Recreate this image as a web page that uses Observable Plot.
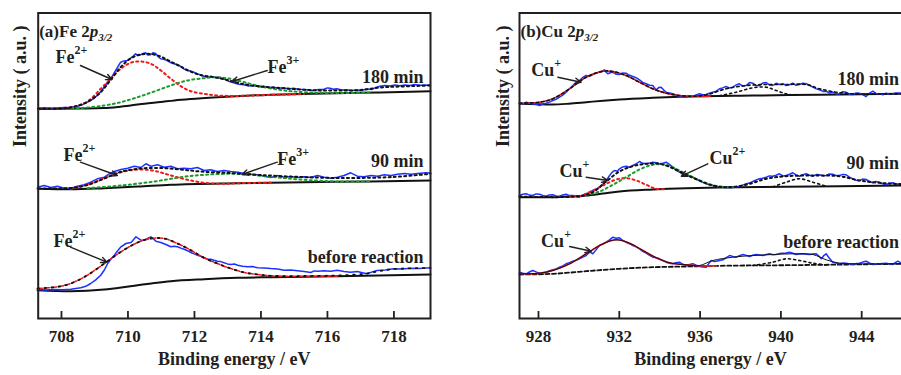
<!DOCTYPE html>
<html><head><meta charset="utf-8">
<script src="https://cdn.jsdelivr.net/npm/d3@7"></script>
<script src="https://cdn.jsdelivr.net/npm/@observablehq/plot@0.6"></script>
<style>
html,body{margin:0;padding:0;overflow:hidden;background:#fff;width:901px;height:375px}
#a{position:absolute;left:0;top:0;width:450px;height:375px}
#b{position:absolute;left:450px;top:0;width:480px;height:375px}
svg, svg text, svg tspan{font-family:"Liberation Serif","Times New Roman",serif !important;font-weight:bold !important}
</style></head>
<body><div id="a"></div><div id="b"></div>
<script>
// ---------- DATA: Fe 2p3/2 (binding energy eV, intensity a.u.) ----------
const feTicks = [708,710,712,714,716,718];
const feExp180 = [[707.28,210.3],[707.48,210.8],[707.68,210.2],[707.88,210.6],[708.08,211.0],[708.28,211.3],[708.48,212.2],[708.63,213.8],[708.78,216.3],[708.93,219.2],[709.08,223.0],[709.18,226.8],[709.28,231.3],[709.38,235.8],[709.48,239.7],[709.63,248.0],[709.78,256.3],[709.88,257.6],[709.98,258.0],[710.08,260.3],[710.16,262.4],[710.23,264.7],[710.30,263.1],[710.38,263.7],[710.45,265.0],[710.53,265.7],[710.60,263.4],[710.68,263.7],[710.75,265.8],[710.83,265.0],[710.90,262.1],[710.98,259.7],[711.08,259.2],[711.18,258.0],[711.28,256.0],[711.38,254.7],[711.48,253.9],[711.58,252.3],[711.68,249.6],[711.78,248.0],[711.88,247.5],[711.98,246.3],[712.08,244.6],[712.18,243.7],[712.28,242.2],[712.38,241.3],[712.48,241.8],[712.58,241.3],[712.73,240.6],[712.88,239.7],[713.03,237.2],[713.18,235.7],[713.33,234.3],[713.48,233.7],[713.63,232.6],[713.78,233.0],[713.93,231.8],[714.08,232.3],[714.23,231.0],[714.38,231.3],[714.53,230.2],[714.68,230.7],[714.83,229.6],[714.98,230.3],[715.13,229.2],[715.28,229.0],[715.43,228.4],[715.58,228.0],[715.73,229.1],[715.88,229.0],[716.0,230.6],[716.08,230.3],[716.18,229.2],[716.28,229.7],[716.43,228.4],[716.58,228.8],[716.73,227.9],[716.88,228.6],[717.03,228.0],[717.18,229.6],[717.33,229.0],[717.43,230.7],[717.58,232.2],[717.73,233.0],[717.88,232.4],[718.03,233.4],[718.18,232.8],[718.33,233.6],[718.48,233.1],[718.63,233.9],[718.78,233.2],[718.93,233.6],[719.1,233.2]];
const feBg180 = [[707.30,209.5],[708.57,210],[709.26,210.5],[709.7,211.6],[710.08,213],[710.5,214.8],[710.98,216.5],[711.4,218.1],[711.88,219.5],[712.69,221.3],[713.68,223],[715.19,224.5],[716.30,225.3],[717.59,226],[719.10,227.3]];
const feFe2p180 = [[707.30,209.7],[708.28,211.3],[708.78,217],[709.18,229.7],[709.48,239.7],[709.78,249.7],[710.08,255.7],[710.38,257],[710.69,254.7],[710.99,248],[711.29,239.7],[711.59,232.3],[711.89,227.3],[712.29,224.7],[712.69,223],[713.29,222.6],[714.29,223.6],[715.3,224.5]];
const feFe3p180 = [[708.3,210.1],[708.58,210.4],[709.28,213],[709.78,216.3],[710.29,221.3],[710.79,227],[711.29,233],[711.79,238],[712.29,240.3],[712.69,241.3],[713.09,239.7],[713.49,236.3],[714.10,231.3],[714.70,228],[715.30,226.3],[716.30,225.5],[717.3,225.9]];
const feFit180 = [[707.30,209.7],[708.27,211],[708.78,216.5],[709.17,226],[709.47,238],[709.77,251],[710.08,260],[710.38,264],[710.68,264.5],[710.98,262],[711.28,257],[711.58,252],[711.88,247],[712.18,243.5],[712.57,241.5],[712.93,239],[713.38,235],[713.98,232],[714.59,230.5],[715.19,229],[715.79,228],[716.39,228],[716.99,228.5],[717.59,231],[718.20,232],[719.10,233]];

const feExp90 = [[707.28,131.3],[707.48,133],[707.68,131],[707.88,132.3],[708.08,130.3],[708.28,130.3],[708.48,132.3],[708.68,133.7],[708.88,136.3],[709.08,139.7],[709.29,141.3],[709.44,144.7],[709.59,147],[709.79,149],[709.99,150.3],[710.19,152.3],[710.39,151],[710.54,154.7],[710.69,152.3],[710.89,153.7],[711.09,151.3],[711.29,152.3],[711.49,149.7],[711.69,150.3],[711.89,149.7],[712.09,151],[712.29,148],[712.49,148.7],[712.69,147],[712.89,148],[713.09,147],[713.30,146.3],[713.50,145],[713.70,144.3],[713.90,143.7],[714.10,142.3],[714.30,141],[714.50,143],[714.70,141.3],[714.90,142],[715.10,141],[715.30,141.7],[715.50,141],[715.70,143],[715.90,141.3],[716.10,140.3],[716.30,141.3],[716.50,143],[716.70,145.7],[716.90,142.3],[717.10,141.7],[717.31,143],[717.51,142.3],[717.71,143.7],[717.91,143],[718.11,144.3],[718.31,145],[718.51,144.3],[718.71,145],[718.96,145.7],[719.1,145.4]];
const feBg90 = [[707.28,129.7],[708.28,129.2],[709.29,130.3],[710.3,131.9],[711.29,133.7],[713.3,135.3],[715.3,136.3],[717.31,137],[719.1,138]];
const feFe2p90 = [[708.28,129.7],[708.78,133.7],[709.29,140.3],[709.79,146.3],[710.29,149],[710.79,147.7],[711.29,143],[711.79,138.7],[712.29,135.7],[712.79,134.7],[713.3,135.3],[714.3,135.8]];
const feFe3p90 = [[708.78,130.3],[709.79,133],[710.79,137],[711.59,141.3],[712.29,143.7],[713.09,144.7],[713.70,143.7],[714.50,141],[715.30,138.7],[716.30,137],[717.3,137.1]];
const feFit90 = [[707.31,130],[708.28,130.5],[708.78,133.5],[709.29,140],[709.77,146.5],[710.38,150],[710.98,150.5],[711.58,149],[712.18,147],[713.08,145.5],[713.98,143.5],[715.19,141.5],[716.39,140.5],[717.59,141],[718.20,142],[719.1,144.7]];

const feExp0 = [[707.28,29],[707.53,28.6],[707.78,29],[708.03,28.7],[708.28,29.3],[708.58,30.7],[708.73,32.2],[708.88,35],[709.03,38.6],[709.18,43.3],[709.29,48.5],[709.39,55],[709.49,59.5],[709.59,63.3],[709.69,67.8],[709.79,71.7],[709.94,75],[710.09,76],[710.16,78.6],[710.24,81.7],[710.31,80.2],[710.39,78.3],[710.47,78.4],[710.54,79],[710.62,80.5],[710.69,81.7],[710.77,79.6],[710.84,77.3],[710.99,76],[711.14,74],[711.29,71.7],[711.39,72.3],[711.49,71.7],[711.59,70.4],[711.69,69.3],[711.79,67.8],[711.89,66],[711.99,64.6],[712.09,63.3],[712.19,62.2],[712.29,60.7],[712.39,59.6],[712.49,59.3],[712.59,58.2],[712.69,57.3],[712.79,56.9],[712.89,55.7],[712.99,54.6],[713.09,54],[713.20,54.5],[713.30,53.3],[713.45,52.2],[713.60,51.7],[713.75,51.9],[713.90,50.7],[714.10,50.6],[714.30,50],[714.50,49.6],[714.70,48.3],[714.90,48.4],[715.10,47.7],[715.30,46.9],[715.50,46],[715.60,47.6],[715.70,47.3],[715.90,47.8],[716.10,47.3],[716.30,48.3],[716.50,46.9],[716.69,46.3],[716.90,46.9],[717.05,45.8],[717.19,44.7],[717.35,46.6],[717.49,48],[717.74,48.6],[717.99,49.7],[718.25,49.4],[718.5,50.3],[718.75,50.1],[719.1,50.7]];
const feBg0 = [[707.28,28.3],[708.28,27.3],[709.29,29],[709.8,31],[710.29,33.3],[710.8,35.5],[711.29,37.3],[712.29,39.3],[713.30,40.7],[714.30,41.3],[716.30,42.3],[719.1,44]];
const feFe2p0 = [[707.28,30],[707.88,31.7],[708.28,35],[708.78,43.3],[709.29,55],[709.79,66.7],[710.29,76],[710.69,80],[711.09,80],[711.49,75],[711.89,68.3],[712.29,60.7],[712.69,55],[713.09,50],[713.50,46],[713.90,44],[714.30,42.7],[715.3,42.2],[716.3,42.4]];
const feFit0 = [[707.28,30],[707.88,31.7],[708.28,35],[708.78,43.3],[709.29,55],[709.79,66.7],[710.29,76],[710.69,80],[711.09,80],[711.49,75],[711.89,68.3],[712.29,60.7],[712.69,55],[713.09,50],[713.50,46],[713.90,44],[714.30,42.7],[715.3,42.5],[716.3,43],[716.8,43.8],[717.19,45],[717.5,47],[718,49.5],[719.1,50.5]];

// ---------- DATA: Cu 2p3/2 ----------
const cuTicks = [928,932,936,940,944];
const cuExp180 = [[927.06,215.3],[927.22,214.4],[927.39,216.3],[927.55,215.6],[927.72,214.7],[927.88,214.1],[928.05,213],[928.21,214.4],[928.38,215.3],[928.54,216.4],[928.71,218],[928.87,219.1],[929.04,221.3],[929.2,223.4],[929.37,226.3],[929.53,229.8],[929.70,233],[929.86,236.2],[930.03,238],[930.2,241.2],[930.36,243],[930.53,242.2],[930.69,244],[930.86,245.4],[931.02,246.3],[931.15,247.1],[931.27,248.7],[931.35,246.2],[931.43,244.7],[931.55,245.8],[931.68,246.3],[931.85,244.2],[932.01,244],[932.17,245.6],[932.34,245.3],[932.5,243.2],[932.67,242],[932.83,240.8],[933.00,238.7],[933.16,236.1],[933.33,234.7],[933.5,233.3],[933.66,233],[933.75,230.4],[933.83,228.7],[933.95,230.9],[934.07,231.3],[934.2,228.4],[934.32,226.3],[934.48,225.5],[934.65,224.7],[934.8,223.6],[934.98,222],[935.15,221.6],[935.31,221.3],[935.48,222.3],[935.64,222],[935.8,223.6],[935.97,224.7],[936.13,223.8],[936.30,224],[936.46,225.2],[936.63,226.3],[936.8,227.4],[936.96,229.7],[937.12,230.6],[937.29,232],[937.45,230.6],[937.62,231.3],[937.78,233.5],[937.95,234.7],[938.11,232.4],[938.28,233],[938.45,235.9],[938.61,235.3],[938.78,232.7],[938.94,233],[939.1,235.4],[939.27,236],[939.43,233.6],[939.60,233],[939.76,235.2],[939.93,234],[940.1,234.8],[940.26,233],[940.43,233.8],[940.59,235.3],[940.75,233.2],[940.92,234],[941.09,235.2],[941.25,234.7],[941.42,233.2],[941.58,231.3],[941.75,229.6],[941.91,228.7],[942.08,227.1],[942.24,227.3],[942.4,225.4],[942.57,226.3],[942.73,224.6],[942.90,224.7],[943.06,226.8],[943.23,226.3],[943.4,224.2],[943.56,224],[943.72,225.6],[943.89,225.3],[944.05,223.9],[944.22,222],[944.38,225.2],[944.55,227.3],[944.71,225.1],[944.88,224.7],[945.05,223.8],[945.21,225.3],[945.37,224.3],[945.54,224.7],[945.7,225.6],[945.97,225.3],[946.3,224.8],[946.8,225.2]];
const cuBg180 = [[927.06,214.7],[928.71,214],[929.5,214.8],[930.36,216.3],[931.2,217.8],[932.01,219],[933.66,220.7],[935.31,222],[938.61,223],[941.91,223.7],[945.97,224.7],[947,225]];
const cuCu1p180 = [[927.06,215.3],[928.05,216.3],[928.71,219.7],[929.54,229.7],[930.36,241.3],[931.19,247.3],[931.68,247],[932.34,243],[933.00,236.3],[933.66,229.7],[934.32,225.3],[934.98,223],[935.64,222.2],[936.5,222.4]];
const cuFit180 = [[927.06,215.3],[928.05,216.3],[928.71,219.7],[929.54,229.7],[930.36,241.3],[931.19,247.3],[931.68,247],[932.34,243],[933.00,236.3],[933.66,229.7],[934.32,225.3],[934.98,223],[935.64,222.2],[936.30,223.7],[937.29,229.7],[938.28,233],[939.27,234],[940.26,234],[941.25,234],[941.91,229.7],[942.74,226.3],[943.56,224.7],[945.97,224.7],[947,225]];
const cuSat180 = [[936.96,222.8],[937.79,226.3],[938.61,230.7],[939.27,231.3],[939.77,228],[940.26,224.7],[940.76,223.4]];

const cuExp90 = [[927.06,123],[927.22,124.2],[927.39,124.7],[927.55,123.4],[927.72,123],[927.88,124.6],[928.05,124.3],[928.21,123.1],[928.38,122.3],[928.54,123.6],[928.71,123.7],[928.87,122.6],[929.04,122.3],[929.2,123.5],[929.37,124.3],[929.53,122.9],[929.70,123],[929.86,122.2],[930.03,121.3],[930.2,123.4],[930.36,124.7],[930.53,126.1],[930.69,128],[930.86,129.2],[931.02,131.3],[931.15,133.6],[931.27,136.3],[931.4,139.4],[931.52,143],[931.64,146.1],[931.76,148],[931.9,147.2],[932.01,149.7],[932.17,151.6],[932.34,152.3],[932.5,151.2],[932.67,153],[932.83,154.6],[933.00,157],[933.16,155.2],[933.33,154.7],[933.5,155.4],[933.66,156.3],[933.83,155.8],[933.99,154.7],[934.15,155.2],[934.32,156.3],[934.48,154.1],[934.65,151.3],[934.8,148.4],[934.98,146.3],[935.15,144.1],[935.31,143],[935.48,142.5],[935.64,141.3],[935.8,139.3],[935.97,138],[936.13,136.1],[936.30,134.7],[936.46,133.6],[936.63,133],[936.8,132.4],[936.96,131.3],[937.12,131.7],[937.29,131.3],[937.45,130.8],[937.62,131],[937.78,131.6],[937.95,132.3],[938.11,133.4],[938.28,134.7],[938.45,135.4],[938.61,137],[938.78,138.6],[938.94,139.7],[939.1,140.2],[939.27,141.3],[939.43,142.6],[939.60,142.3],[939.76,143.2],[939.93,144.7],[940.1,142.6],[940.26,143],[940.43,144.2],[940.59,145.7],[940.75,143.6],[940.92,142.3],[941.09,143.8],[941.25,144.7],[941.42,143.2],[941.58,142.3],[941.75,143.9],[941.91,143.7],[942.08,142.6],[942.24,143],[942.4,144.5],[942.57,144.3],[942.73,142.9],[942.90,143],[943.06,144.1],[943.23,143.7],[943.4,141.4],[943.56,139.7],[943.72,138.2],[943.89,138],[944.05,139.4],[944.22,139],[944.38,137.2],[944.55,135.7],[944.71,137.1],[944.88,136.3],[945.05,134.8],[945.21,133.7],[945.37,135.2],[945.54,135.7],[945.7,134.2],[945.97,134.7],[946.3,135.1],[946.8,134.6]];
const cuBg90 = [[927.06,121.3],[928.71,121.3],[929.5,122],[930.36,123],[931.2,125],[932.01,127],[933.66,129],[935.31,130.3],[936.96,131],[940.26,131.7],[945.97,133],[947,133.2]];
const cuCu1p90 = [[929.5,122.1],[930.03,122.4],[930.69,128],[931.35,134.7],[931.85,139],[932.34,140.3],[932.84,138],[933.33,133.7],[933.83,129.7],[934.32,129.4]];
const cuCu2p90 = [[930.36,123.2],[931.02,127],[931.68,133.7],[932.34,141.3],[933.00,149],[933.66,153.7],[934.32,153.7],[934.98,148],[935.64,141.3],[936.30,135.3],[936.96,132],[937.62,131.2]];
const cuFit90 = [[927.06,122],[930.03,122.3],[930.69,126.3],[931.35,137],[932.01,147],[932.67,152.3],[933.33,154.7],[933.99,154.7],[934.65,150.3],[935.31,143.7],[935.97,138],[936.63,133],[937.29,131.3],[938.28,133.7],[939.27,139.7],[940.26,142.3],[941.58,143],[942.90,142.3],[943.89,138],[944.88,135.7],[945.97,134.3],[947,134]];
const cuSat90 = [[939.60,131.6],[940.26,136.3],[940.92,139.7],[941.58,136.3],[942.24,132.3]];

const cuExp0 = [[927.06,46.3],[927.22,45.2],[927.39,44.7],[927.55,46.5],[927.72,48],[927.88,46.6],[928.05,45.3],[928.21,45.8],[928.38,46.3],[928.54,47.8],[928.71,48.7],[928.87,49.6],[929.04,51.3],[929.2,52.6],[929.37,54.7],[929.53,55.8],[929.70,57.3],[929.86,58.2],[930.03,59.7],[930.2,61.5],[930.36,63],[930.45,64.8],[930.53,66.3],[930.61,65.9],[930.69,64.7],[930.86,68.9],[931.02,73],[931.19,74.4],[931.35,76.3],[931.52,78.6],[931.68,81.3],[931.85,80.2],[932.01,80.7],[932.17,78.1],[932.34,76.3],[932.5,74.8],[932.67,73],[932.83,71.6],[933.00,69.7],[933.16,67.2],[933.33,65.3],[933.5,63.2],[933.66,61.3],[933.83,60.8],[933.99,59.7],[934.15,58.1],[934.32,56.3],[934.48,55.2],[934.65,54.7],[934.8,55.8],[934.98,56.3],[935.15,54.2],[935.31,53],[935.48,54.1],[935.64,54.7],[935.8,53.2],[935.97,52],[936.13,51.6],[936.30,51.3],[936.42,54.6],[936.55,58],[936.68,57.1],[936.80,57.3],[936.96,58.1],[937.13,58.7],[937.3,60.8],[937.46,63],[937.62,62.1],[937.79,61.3],[937.95,62.9],[938.12,64],[938.28,63.1],[938.45,62],[938.61,63.2],[938.78,64],[938.94,63.6],[939.11,63],[939.27,64.1],[939.44,64.7],[939.6,63.8],[939.77,64],[939.93,64.9],[940.10,65.3],[940.26,65.6],[940.43,66.3],[940.59,65.2],[940.76,64],[940.92,64.4],[941.09,64.7],[941.25,64.2],[941.42,64],[941.58,64.6],[941.75,64.7],[941.88,62.4],[942.00,59.7],[942.12,62.8],[942.24,64.7],[942.4,60.3],[942.57,56.3],[942.73,55.4],[942.90,54.7],[943.06,55.6],[943.23,55.3],[943.4,54.6],[943.56,54],[943.72,54.9],[943.89,55.3],[944.05,56.4],[944.22,57.3],[944.38,55.5],[944.55,54],[944.71,54.2],[944.88,54.7],[945.05,55.1],[945.21,55.3],[945.37,54.5],[945.54,54],[945.66,55.8],[945.79,57.3],[945.9,56.1],[945.97,55.3],[946.3,55.1],[946.8,55.4]];
const cuBg0 = [[927.06,44],[928.71,44.7],[929.5,45.8],[930.36,47.3],[932.01,49.7],[933.66,51.3],[935.31,52],[936.96,52.7],[940.26,53.3],[945.97,54.7],[947,55]];
const cuCu1p0 = [[927.06,44.7],[928.05,45.3],[928.71,48],[929.54,54.7],[930.36,64.7],[931.19,74.7],[931.85,78.7],[932.51,75.3],[933.17,68],[933.83,60.7],[934.49,55.7],[935.31,53.7],[935.97,52.7],[936.8,52.8]];
const cuFit0 = [[927.06,44.7],[928.05,45.3],[928.71,48],[929.54,54.7],[930.36,64.7],[931.19,74.7],[931.85,78.7],[932.51,75.3],[933.17,68],[933.83,60.7],[934.49,55.7],[935.31,53.7],[935.97,53],[936.63,58],[937.62,61.3],[938.61,63],[939.60,64],[940.59,64.7],[941.58,64],[942.24,58.7],[942.90,55.3],[943.56,54.7],[945.97,54.7],[947,55]];
const cuSat0 = [[938.61,53],[939.60,56.3],[940.26,59.7],[940.92,58],[941.58,55.3],[942.24,53.5]];

// ---------- annotations ----------
const feIons = [{t:"Fe^2+",x:707.82,y:261},{t:"Fe^3+",x:714.2,y:251.3},{t:"Fe^2+",x:708.06,y:163.5},{t:"Fe^3+",x:714.49,y:159},{t:"Fe^2+",x:707.76,y:77.5}];
const feTimes = [{t:"180 min",x:718.89,y:241},{t:"90 min",x:718.89,y:157},{t:"before reaction",x:718.89,y:61}];
const feArrows = [{x1:708.57,y1:253,x2:709.52,y2:239},{x1:714.19,y1:248,x2:713.13,y2:237},{x1:708.57,y1:156.3,x2:709.68,y2:143},{x1:714.49,y1:156.3,x2:713.43,y2:144},{x1:708.27,y1:71.3,x2:709.37,y2:56.3}];
const cuIons = [{t:"Cu^+",x:927.64,y:248},{t:"Cu^+",x:929.04,y:147.5},{t:"Cu^2+",x:936.47,y:160},{t:"Cu^+",x:928.13,y:77.5}];
const cuTimes = [{t:"180 min",x:945.85,y:239},{t:"90 min",x:945.85,y:155},{t:"before reaction",x:945.85,y:76}];
const cuArrows = [{x1:928.96,y1:241.3,x2:930.11,y2:236.3},{x1:930.36,y1:141.3,x2:931.43,y2:138},{x1:936.38,y1:154.7,x2:935.07,y2:142.3},{x1:929.54,y1:72,x2:930.61,y2:67.3}];

// ---------- styles ----------
const INK = "#231f20";
const FONT = "'Liberation Serif','Times New Roman',serif";
const L = (data, o) => Plot.line(data, {x: d => d[0], y: d => d[1], ...o});
const BLUE = {stroke:"#1e32ff", strokeWidth:1.5};
const BG = {stroke:"#111", strokeWidth:2, curve:"monotone-x"};
const DOT = c => ({stroke:c, strokeWidth:2, strokeDasharray:"2,3.2", curve:"catmull-rom"});
const RED = "#f01818", GREEN = "#1a9a2a";

function panel(cfg) {
  const T = {fontFamily: FONT, fontWeight: "bold", fill: INK};
  const marks = [
    ...cfg.curves,
    Plot.frame({stroke: INK, strokeWidth: 2}),
    Plot.tickX(cfg.ticks, {x: d => d, insetTop: 305.5 - 7, stroke: INK, strokeWidth: 1.8}),
    Plot.axisX({ticks: cfg.ticks, tickSize: 0, tickPadding: 11, tickFormat: d => String(d), fontSize: 17, label: null, ...T}),
    Plot.text(["Binding energy / eV"], {text: d => d, frameAnchor: "bottom", dy: 46, dx: cfg.labelDx, fontSize: 18, ...T}),
    Plot.text(["Intensity ( a.u. )"], {text: d => d, frameAnchor: "left", rotate: -90, dx: cfg.yDx, dy: -18.75, fontSize: 18, ...T}),
    Plot.text([cfg.title], {text: d => d, frameAnchor: "top-left", textAnchor: "start", dx: 1, dy: 12, fontSize: 17, ...T}),
    Plot.arrow(cfg.arrows, {x1: "x1", y1: "y1", x2: "x2", y2: "y2", stroke: INK, strokeWidth: 1.4, headLength: 7, headAngle: 50}),
    Plot.text(cfg.ions, {x: "x", y: "y", text: "t", textAnchor: "start", fontSize: 18, ...T}),
    Plot.text(cfg.times, {x: "x", y: "y", text: "t", textAnchor: "end", fontSize: 18, ...T})
  ];
  const svg = Plot.plot({
    width: cfg.width, height: 375,
    marginLeft: cfg.ml, marginRight: cfg.mr, marginTop: 12.5, marginBottom: 57,
    x: {domain: cfg.domain, label: null},
    y: {domain: [0, 305.5], axis: null},
    style: {fontFamily: FONT, fontWeight: "bold", fontSize: "17px", color: INK, background: "transparent", overflow: "visible", maxWidth: "none"},
    marks
  });
  d3.select(svg).selectAll("text").each(function () {
    const s = this.textContent;
    const sel = d3.select(this);
    if (s.includes("^")) {
      const [base, sup] = s.split("^");
      sel.text(null);
      sel.append("tspan").text(base);
      sel.append("tspan").attr("font-size", 12).attr("dy", -9).text(sup);
    } else if (s.includes("|")) {
      const [a, p, sub] = s.split("|");
      sel.text(null);
      sel.append("tspan").text(a);
      sel.append("tspan").attr("font-style", "italic").text(p);
      sel.append("tspan").attr("font-style", "italic").attr("font-size", 11).attr("dy", 4).text(sub);
    }
  });
  return svg;
}

document.getElementById("a").append(panel({
  width: 450, ml: 37.7, mr: 20, domain: [707.3, 719.1], ticks: feTicks,
  labelDx: 0, yDx: -18.2, title: "(a)Fe 2|p|3/2",
  ions: feIons, times: feTimes, arrows: feArrows,
  curves: [
    L(feBg180, BG), L(feExp180, BLUE), L(feFe2p180, DOT(RED)), L(feFe3p180, DOT(GREEN)), L(feFit180, DOT("#111")),
    L(feBg90, BG), L(feExp90, BLUE), L(feFe2p90, DOT(RED)), L(feFe3p90, DOT(GREEN)), L(feFit90, DOT("#111")),
    L(feBg0, BG), L(feExp0, BLUE),
    L(feFe2p0, {stroke: RED, strokeWidth: 1.6, strokeDasharray: "5,2", curve: "catmull-rom"}),
    L(feFit0, {stroke: "#111", strokeWidth: 1.8, strokeDasharray: "1.6,5.4", curve: "catmull-rom"})
  ]
}));

document.getElementById("b").append(panel({
  width: 480, ml: 69, mr: 8.2, domain: [927.06, 947], ticks: cuTicks,
  labelDx: -10.4, yDx: -16.5, title: "(b)Cu 2|p|3/2",
  ions: cuIons, times: cuTimes, arrows: cuArrows,
  curves: [
    L(cuBg180, BG), L(cuExp180, BLUE),
    L(cuCu1p180, {stroke: RED, strokeWidth: 1.6, curve: "catmull-rom"}),
    L(cuSat180, {...DOT("#111"), strokeWidth: 1.6}),
    L(cuFit180, {stroke: "#111", strokeWidth: 1.6, strokeDasharray: "2.5,3", curve: "catmull-rom"}),
    L(cuBg90, BG), L(cuExp90, BLUE),
    L(cuCu1p90, DOT(RED)), L(cuCu2p90, DOT(GREEN)),
    L(cuSat90, {...DOT("#111"), strokeWidth: 1.6}),
    L(cuFit90, DOT("#111")),
    L(cuBg0, {stroke: "#111", strokeWidth: 1.8, strokeDasharray: "4,2.5", curve: "monotone-x"}),
    L(cuExp0, BLUE),
    L(cuCu1p0, {stroke: RED, strokeWidth: 1.6, curve: "catmull-rom"}),
    L(cuSat0, {...DOT("#111"), strokeWidth: 1.6}),
    L(cuFit0, {stroke: "#111", strokeWidth: 1, curve: "catmull-rom"})
  ]
}));
</script>
</body></html>
